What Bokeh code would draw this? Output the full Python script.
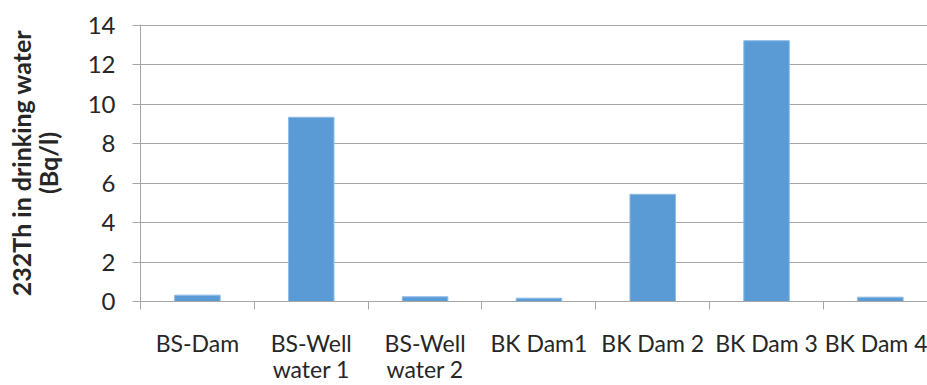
import numpy as np
from bokeh.plotting import figure
from bokeh.models import Range1d, FixedTicker
from bokeh.embed import file_html
from bokeh.resources import INLINE

# Sampling sites and measured 232Th activity in drinking water (Bq/l)
sites = ["BS-Dam", "BS-Well\nwater 1", "BS-Well\nwater 2", "BK Dam1",
         "BK Dam 2", "BK Dam 3", "BK Dam 4"]
th232 = [0.32, 9.33, 0.24, 0.17, 5.43, 13.21, 0.22]
y_ticks = [0, 2, 4, 6, 8, 10, 12, 14]

n = len(sites)
centers = [i + 0.5 for i in range(n)]
bounds = [float(i) for i in range(n + 1)]

FONT = "Lato"
TEXT = "#262626"
GRID = "#a6a6a6"

p = figure(width=927, height=385, output_backend="svg", toolbar_location=None,
           x_range=Range1d(0, 6.914), y_range=Range1d(0, 14.03),
           min_border_left=140, min_border_right=0,
           min_border_top=24, min_border_bottom=83)
p.outline_line_color = None
p.background_fill_color = "white"
p.border_fill_color = "white"

p.vbar(x=centers, top=th232, width=0.4, fill_color="#5b9bd5",
       line_color="#8fbce6", line_width=1)

# y axis
p.yaxis.ticker = FixedTicker(ticks=y_ticks)
p.yaxis.axis_line_color = GRID
p.yaxis.major_tick_line_color = GRID
p.yaxis.major_tick_in = 0
p.yaxis.major_tick_out = 8
p.yaxis.minor_tick_line_color = None
p.yaxis.major_label_text_font = FONT
p.yaxis.major_label_text_font_size = "24px"
p.yaxis.major_label_text_color = TEXT
p.yaxis.major_label_standoff = 17
p.yaxis.axis_label = "232Th in drinking water\n(Bq/l)"
p.yaxis.axis_label_text_font = FONT
p.yaxis.axis_label_text_font_style = "bold"
p.yaxis.axis_label_text_font_size = "25px"
p.yaxis.axis_label_text_line_height = 0.9
p.yaxis.axis_label_text_color = TEXT
p.yaxis.axis_label_standoff = 22

# x axis: labels centred in each category, ticks on category boundaries
p.xaxis.ticker = FixedTicker(ticks=centers, minor_ticks=bounds)
p.xaxis.major_label_overrides = {c: s for c, s in zip(centers, sites)}
p.xaxis.axis_line_color = GRID
p.xaxis.major_tick_line_color = None
p.xaxis.major_tick_in = 0
p.xaxis.major_tick_out = 0
p.xaxis.minor_tick_line_color = GRID
p.xaxis.minor_tick_in = 0
p.xaxis.minor_tick_out = 8
p.xaxis.major_label_text_font = FONT
p.xaxis.major_label_text_font_size = "23px"
p.xaxis.major_label_text_line_height = 0.93
p.xaxis.major_label_text_color = TEXT
p.xaxis.major_label_standoff = 19

p.xgrid.grid_line_color = None
p.ygrid.ticker = FixedTicker(ticks=y_ticks)
p.ygrid.grid_line_color = GRID

open("out.html", "w").write(file_html(p, INLINE))
